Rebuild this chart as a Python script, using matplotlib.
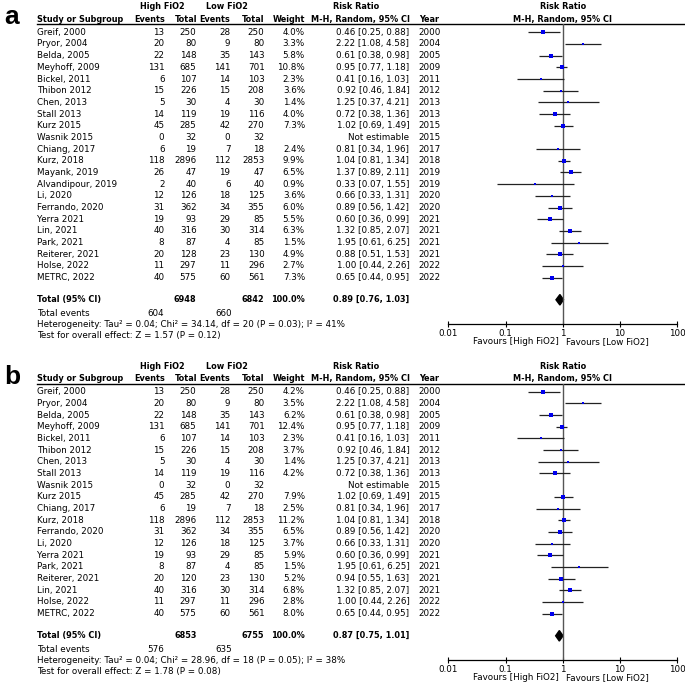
import numpy as np
import matplotlib
matplotlib.use('Agg')
import matplotlib.pyplot as plt
from matplotlib.ticker import NullLocator

plt.rcParams['font.family'] = 'DejaVu Sans'

# ---- panel a data
studies_a = ["Greif, 2000", "Pryor, 2004", "Belda, 2005", "Meyhoff, 2009", "Bickel, 2011",
             "Thibon 2012", "Chen, 2013", "Stall 2013", "Kurz 2015", "Wasnik 2015",
             "Chiang, 2017", "Kurz, 2018", "Mayank, 2019", "Alvandipour, 2019", "Li, 2020",
             "Ferrando, 2020", "Yerra 2021", "Lin, 2021", "Park, 2021", "Reiterer, 2021",
             "Holse, 2022", "METRC, 2022"]
ev_high_a = [13, 20, 22, 131, 6, 15, 5, 14, 45, 0, 6, 118, 26, 2, 12, 31, 19, 40, 8, 20, 11, 40]
tot_high_a = [250, 80, 148, 685, 107, 226, 30, 119, 285, 32, 19, 2896, 47, 40, 126, 362, 93, 316, 87, 128, 297, 575]
ev_low_a = [28, 9, 35, 141, 14, 15, 4, 19, 42, 0, 7, 112, 19, 6, 18, 34, 29, 30, 4, 23, 11, 60]
tot_low_a = [250, 80, 143, 701, 103, 208, 30, 116, 270, 32, 18, 2853, 47, 40, 125, 355, 85, 314, 85, 130, 296, 561]
weight_a = [4.0, 3.3, 5.8, 10.8, 2.3, 3.6, 1.4, 4.0, 7.3, None, 2.4, 9.9, 6.5, 0.9, 3.6, 6.0, 5.5, 6.3, 1.5, 4.9, 2.7, 7.3]
rr_a = [0.46, 2.22, 0.61, 0.95, 0.41, 0.92, 1.25, 0.72, 1.02, None, 0.81, 1.04, 1.37, 0.33, 0.66, 0.89, 0.60, 1.32, 1.95, 0.88, 1.00, 0.65]
lo_a = [0.25, 1.08, 0.38, 0.77, 0.16, 0.46, 0.37, 0.38, 0.69, None, 0.34, 0.81, 0.89, 0.07, 0.33, 0.56, 0.36, 0.85, 0.61, 0.51, 0.44, 0.44]
hi_a = [0.88, 4.58, 0.98, 1.18, 1.03, 1.84, 4.21, 1.36, 1.49, None, 1.96, 1.34, 2.11, 1.55, 1.31, 1.42, 0.99, 2.07, 6.25, 1.53, 2.26, 0.95]
years_a = [2000, 2004, 2005, 2009, 2011, 2012, 2013, 2013, 2015, 2015, 2017, 2018, 2019, 2019, 2020, 2020, 2021, 2021, 2021, 2021, 2022, 2022]
total_a = {'n_high': 6948, 'n_low': 6842, 'ev_high': 604, 'ev_low': 660, 'rr': 0.89, 'lo': 0.76, 'hi': 1.03,
           'het': "Heterogeneity: Tau² = 0.04; Chi² = 34.14, df = 20 (P = 0.03); I² = 41%",
           'test': "Test for overall effect: Z = 1.57 (P = 0.12)"}

# ---- panel b data
studies_b = ["Greif, 2000", "Pryor, 2004", "Belda, 2005", "Meyhoff, 2009", "Bickel, 2011",
             "Thibon 2012", "Chen, 2013", "Stall 2013", "Wasnik 2015", "Kurz 2015",
             "Chiang, 2017", "Kurz, 2018", "Ferrando, 2020", "Li, 2020", "Yerra 2021",
             "Park, 2021", "Reiterer, 2021", "Lin, 2021", "Holse, 2022", "METRC, 2022"]
ev_high_b = [13, 20, 22, 131, 6, 15, 5, 14, 0, 45, 6, 118, 31, 12, 19, 8, 20, 40, 11, 40]
tot_high_b = [250, 80, 148, 685, 107, 226, 30, 119, 32, 285, 19, 2896, 362, 126, 93, 87, 120, 316, 297, 575]
ev_low_b = [28, 9, 35, 141, 14, 15, 4, 19, 0, 42, 7, 112, 34, 18, 29, 4, 23, 30, 11, 60]
tot_low_b = [250, 80, 143, 701, 103, 208, 30, 116, 32, 270, 18, 2853, 355, 125, 85, 85, 130, 314, 296, 561]
weight_b = [4.2, 3.5, 6.2, 12.4, 2.3, 3.7, 1.4, 4.2, None, 7.9, 2.5, 11.2, 6.5, 3.7, 5.9, 1.5, 5.2, 6.8, 2.8, 8.0]
rr_b = [0.46, 2.22, 0.61, 0.95, 0.41, 0.92, 1.25, 0.72, None, 1.02, 0.81, 1.04, 0.89, 0.66, 0.60, 1.95, 0.94, 1.32, 1.00, 0.65]
lo_b = [0.25, 1.08, 0.38, 0.77, 0.16, 0.46, 0.37, 0.38, None, 0.69, 0.34, 0.81, 0.56, 0.33, 0.36, 0.61, 0.55, 0.85, 0.44, 0.44]
hi_b = [0.88, 4.58, 0.98, 1.18, 1.03, 1.84, 4.21, 1.36, None, 1.49, 1.96, 1.34, 1.42, 1.31, 0.99, 6.25, 1.63, 2.07, 2.26, 0.95]
years_b = [2000, 2004, 2005, 2009, 2011, 2012, 2013, 2013, 2015, 2015, 2017, 2018, 2020, 2020, 2021, 2021, 2021, 2021, 2022, 2022]
total_b = {'n_high': 6853, 'n_low': 6755, 'ev_high': 576, 'ev_low': 635, 'rr': 0.87, 'lo': 0.75, 'hi': 1.01,
           'het': "Heterogeneity: Tau² = 0.04; Chi² = 28.96, df = 18 (P = 0.05); I² = 38%",
           'test': "Test for overall effect: Z = 1.78 (P = 0.08)"}

tick_vals = [0.01, 0.1, 1, 10, 100]
tick_labels = ['0.01', '0.1', '1', '10', '100']

W = 685.0
STEP = 11.68
FS = 6.3    # regular text
FSB = 5.9   # bold text (DejaVu bold runs wide)

fig = plt.figure(figsize=(6.85, 6.85), dpi=100)


def draw_panel(top, label, studies, ev_h, tot_h, ev_l, tot_l, weight, rr, lo, hi, years, tot):
    n = len(studies)
    # table axes: x in pixels, y in rows
    ax = fig.add_axes([0, 0, 1, 1])
    ax.set_xlim(0, W)
    ax.set_ylim((W - top) / STEP, -top / STEP)
    ax.axis('off')

    ax.text(4, -0.7, label, fontsize=19, fontweight='bold', family='Liberation Sans',
            ha='left', va='baseline')

    h1, h2 = -2.18, -1.12
    ax.text(162, h1, 'High FiO2', fontsize=FSB, fontweight='bold', ha='center', va='center')
    ax.text(227, h1, 'Low FiO2', fontsize=FSB, fontweight='bold', ha='center', va='center')
    ax.text(356, h1, 'Risk Ratio', fontsize=FSB, fontweight='bold', ha='center', va='center')
    ax.text(562.7, h1, 'Risk Ratio', fontsize=FSB, fontweight='bold', ha='center', va='center')
    ax.text(37, h2, 'Study or Subgroup', fontsize=FSB, fontweight='bold', ha='left', va='center')
    for x, s in [(165, 'Events'), (197, 'Total'), (230.5, 'Events'), (264.5, 'Total'),
                 (305, 'Weight'), (410, 'M-H, Random, 95% CI')]:
        ax.text(x, h2, s, fontsize=FSB, fontweight='bold', ha='right', va='center')
    ax.text(419, h2, 'Year', fontsize=FSB, fontweight='bold', ha='left', va='center')
    ax.text(562.7, h2, 'M-H, Random, 95% CI', fontsize=FSB, fontweight='bold', ha='center', va='center')
    ax.plot([37, W], [-0.67, -0.67], color='black', lw=1)

    for i in range(n):
        ax.text(37, i, studies[i], fontsize=FS, ha='left', va='center')
        ax.text(164.5, i, str(ev_h[i]), fontsize=FS, ha='right', va='center')
        ax.text(196.5, i, str(tot_h[i]), fontsize=FS, ha='right', va='center')
        ax.text(230.5, i, str(ev_l[i]), fontsize=FS, ha='right', va='center')
        ax.text(264.5, i, str(tot_l[i]), fontsize=FS, ha='right', va='center')
        if rr[i] is None:
            ax.text(409.5, i, 'Not estimable', fontsize=FS, ha='right', va='center')
        else:
            ax.text(305, i, '%.1f%%' % weight[i], fontsize=FS, ha='right', va='center')
            ax.text(409.5, i, '%.2f [%.2f, %.2f]' % (rr[i], lo[i], hi[i]), fontsize=FS, ha='right', va='center')
        ax.text(418.5, i, str(years[i]), fontsize=FS, ha='left', va='center')

    r_tot = n - 1 + 1.9
    ax.text(37, r_tot, 'Total (95% CI)', fontsize=FSB, fontweight='bold', ha='left', va='center')
    ax.text(196.5, r_tot, str(tot['n_high']), fontsize=FSB, fontweight='bold', ha='right', va='center')
    ax.text(264.5, r_tot, str(tot['n_low']), fontsize=FSB, fontweight='bold', ha='right', va='center')
    ax.text(305, r_tot, '100.0%', fontsize=FSB, fontweight='bold', ha='right', va='center')
    ax.text(409.5, r_tot, '%.2f [%.2f, %.2f]' % (tot['rr'], tot['lo'], tot['hi']),
            fontsize=FSB, fontweight='bold', ha='right', va='center')
    r_ev = n - 1 + 3.07
    ax.text(37, r_ev, 'Total events', fontsize=FS, ha='left', va='center')
    ax.text(164.5, r_ev, str(tot['ev_high']), fontsize=FS, ha='right', va='center')
    ax.text(232.5, r_ev, str(tot['ev_low']), fontsize=FS, ha='right', va='center')
    ax.text(37, n - 1 + 4.04, tot['het'], fontsize=FS, ha='left', va='center')
    ax.text(37, n - 1 + 4.96, tot['test'], fontsize=FS, ha='left', va='center')
    ax.text(559, n - 1 + 5.47, 'Favours [High FiO2]', fontsize=FS, ha='right', va='center')
    ax.text(566, n - 1 + 5.47, 'Favours [Low FiO2]', fontsize=FS, ha='left', va='center')

    # forest axes
    y_top, y_bot = -0.67, n - 1 + 3.96
    top_px = top + STEP * y_top
    bot_px = top + STEP * y_bot
    fa = fig.add_axes([448.3 / W, 1 - bot_px / W, 229.0 / W, (bot_px - top_px) / W])
    fa.set_facecolor('none')
    fa.set_xscale('log')
    fa.set_xlim(0.01, 100)
    fa.set_ylim(y_bot, y_top)
    fa.axvline(1, color='#555555', lw=1)
    for i in range(n):
        if rr[i] is None:
            continue
        fa.hlines(i, lo[i], hi[i], color='#222222', lw=0.9)
        fa.plot(rr[i], i, 's', color='#0000ee', ms=1.0 + 0.6 * np.sqrt(weight[i]), mew=0)
    fa.fill([tot['lo'], tot['rr'], tot['hi'], tot['rr']],
            [r_tot, r_tot - 0.45, r_tot, r_tot + 0.45], color='black')
    for s in ['left', 'right', 'top']:
        fa.spines[s].set_visible(False)
    fa.spines['bottom'].set_linewidth(0.9)
    fa.set_yticks([])
    fa.set_xticks(tick_vals)
    fa.set_xticklabels(tick_labels)
    fa.xaxis.set_minor_locator(NullLocator())
    fa.tick_params(axis='x', direction='inout', length=4, width=0.8, pad=1.5, labelsize=FS)


draw_panel(32.3, 'a', studies_a, ev_high_a, tot_high_a, ev_low_a, tot_low_a,
           weight_a, rr_a, lo_a, hi_a, years_a, total_a)
draw_panel(391.7, 'b', studies_b, ev_high_b, tot_high_b, ev_low_b, tot_low_b,
           weight_b, rr_b, lo_b, hi_b, years_b, total_b)

fig.savefig('out.png', dpi=100, facecolor='white')
